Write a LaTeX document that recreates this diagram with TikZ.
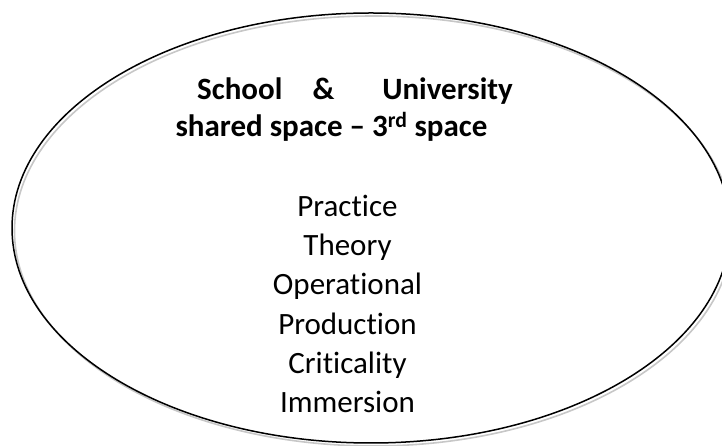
\documentclass[tikz,border=0pt]{standalone}
\usepackage{fontspec}
\setmainfont{Carlito}[Ligatures={TeX,NoCommon}]
\usetikzlibrary{shapes.geometric}
\begin{document}
\begin{tikzpicture}[x=1pt,y=1pt,
  ttl/.style={inner sep=0pt,font=\fontsize{31}{38}\selectfont\bfseries},
  itm/.style={inner sep=0pt,anchor=base,font=\fontsize{31}{38}\selectfont}]
\useasboundingbox (0,0) rectangle (722,446);
\clip (0,0) rectangle (722,446);
\draw[line width=1.6pt,black!22] (373.5,215) ellipse [x radius=359, y radius=215];
\node[draw,line width=1.5pt,ellipse,minimum width=718pt,minimum height=430pt,inner sep=0pt] (sp) at (371,218) {};
\node[ttl,anchor=base west] (school) at (197,346) {School};
\node[ttl,anchor=base] (amp) at (323.5,346) {\&};
\node[ttl,anchor=base east] (uni) at (513,346) {University};
\node[ttl,anchor=base] (shared) at (331.5,309) {shared space \textendash{} 3\textsuperscript{rd} space};
\node[itm] (p1) at (347.5,229) {Practice};
\node[itm] (p2) at (347.5,190) {Theory};
\node[itm] (p3) at (347.5,151) {Operational};
\node[itm] (p4) at (347.5,111) {Production};
\node[itm] (p5) at (347.5,72) {Criticality};
\node[itm] (p6) at (347.5,33) {Immersion};
\end{tikzpicture}
\end{document}
